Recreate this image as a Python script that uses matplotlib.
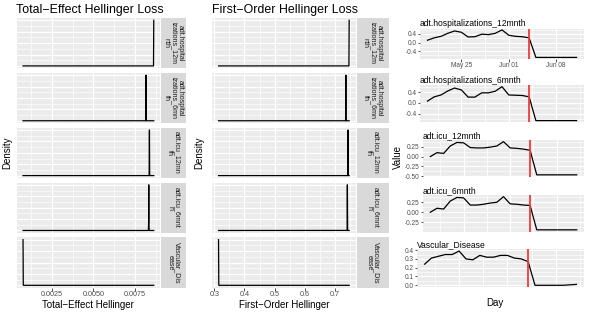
import numpy as np
import pandas as pd
import matplotlib
matplotlib.use("Agg")
import matplotlib.pyplot as plt
import matplotlib.dates as mdates
from matplotlib.ticker import MultipleLocator, FixedLocator, FormatStrFormatter, NullFormatter

plt.rcParams['font.family'] = ['Liberation Sans', 'DejaVu Sans']

# --- DATA ---
strip_labels = ["adt.hospital\nizations_12m\nnth", "adt.hospital\nizations_6mn\nth",
                "adt.icu_12mn\nth", "adt.icu_6mnt\nh", "Vascular_Dis\nease"]
series_names = ["adt.hospitalizations_12mnth", "adt.hospitalizations_6mnth",
                "adt.icu_12mnth", "adt.icu_6mnth", "Vascular_Disease"]

total_effect = [0.00862, 0.00816, 0.00836, 0.00832, 0.00078]
first_order = [0.747, 0.736, 0.743, 0.741, 0.314]

days = pd.date_range("2020-05-20", periods=23, freq="D")
change_day = pd.Timestamp("2020-06-04")
date_ticks = pd.to_datetime(["2020-05-25", "2020-06-01", "2020-06-08"])

hosp_12 = [0.11, 0.22, 0.29, 0.43, 0.54, 0.48, 0.26, 0.27, 0.39, 0.37, 0.43, 0.59,
           0.34, 0.29, 0.27, 0.22, -0.69, -0.69, -0.69, -0.69, -0.69, -0.69, -0.69]
hosp_6 = [0.07, 0.23, 0.30, 0.45, 0.56, 0.49, 0.22, 0.22, 0.38, 0.38, 0.44, 0.61,
          0.30, 0.29, 0.28, 0.23, -0.66, -0.66, -0.66, -0.66, -0.66, -0.66, -0.66]
icu_12 = [0.00, 0.10, 0.08, 0.27, 0.36, 0.35, 0.23, 0.22, 0.22, 0.24, 0.27, 0.38,
          0.22, 0.21, 0.19, 0.16, -0.465, -0.465, -0.465, -0.465, -0.465, -0.465, -0.465]
icu_6 = [0.00, 0.10, 0.08, 0.28, 0.37, 0.36, 0.18, 0.18, 0.20, 0.23, 0.25, 0.39,
         0.21, 0.20, 0.18, 0.17, -0.44, -0.44, -0.44, -0.44, -0.44, -0.44, -0.44]
vascular = [0.24, 0.31, 0.33, 0.35, 0.35, 0.39, 0.30, 0.29, 0.34, 0.32, 0.32, 0.34,
            0.34, 0.31, 0.30, 0.27, 0.00, 0.00, 0.00, 0.00, 0.00, 0.005, 0.01]
series = [hosp_12, hosp_6, icu_12, icu_6, vascular]

# --- LAYOUT (pixels) ---
W, H = 589, 312
fig = plt.figure(figsize=(W / 100, H / 100), dpi=100)
BG = '#EBEBEB'
STRIP = '#D9D9D9'
TICK = '#4D4D4D'


def px_axes(x0, y0, x1, y1):
    return fig.add_axes([x0 / W, 1 - y1 / H, (x1 - x0) / W, (y1 - y0) / H])


def gg(ax, labelsize=5.2):
    ax.set_facecolor(BG)
    for s in ax.spines.values():
        s.set_visible(False)
    ax.set_axisbelow(True)
    ax.grid(which='major', color='white', lw=0.9)
    ax.grid(which='minor', color='white', lw=0.45)
    ax.tick_params(which='both', length=1.8, width=0.6, color='#333333',
                   labelsize=labelsize, labelcolor=TICK, pad=0.8)
    ax.tick_params(which='minor', length=0)


def density(values, i):
    lo, hi = min(values), max(values)
    grid = np.sort(np.concatenate([np.linspace(lo, hi, 512), values]))
    bw = (hi - lo) / 2000
    d = np.exp(-0.5 * ((grid - values[i]) / bw) ** 2) / (bw * np.sqrt(2 * np.pi))
    return grid, d


row_top = 18
pitch = 54.85
row_h = 50.2

columns = [
    dict(vals=total_effect, x0=16.5, x1=160.3, s0=160.8, s1=186,
         major=0.0025, minor=0.00125, fmt='%.4f',
         title="Total\u2212Effect Hellinger Loss", xlabel="Total\u2212Effect Hellinger", ylab_x=7),
    dict(vals=first_order, x0=212, x1=355.7, s0=356.5, s1=388.5,
         major=0.1, minor=0.05, fmt='%.1f',
         title="First\u2212Order Hellinger Loss", xlabel="First\u2212Order Hellinger", ylab_x=199),
]

for col in columns:
    for i in range(5):
        y0 = row_top + i * pitch
        y1 = y0 + row_h
        ax = px_axes(col['x0'], y0, col['x1'], y1)
        gg(ax)
        x, d = density(col['vals'], i)
        ax.plot(x, d, color='black', lw=0.9)
        peak = d.max()
        ax.yaxis.set_major_locator(MultipleLocator(peak / 4))
        ax.yaxis.set_minor_locator(MultipleLocator(peak / 8))
        ax.yaxis.set_major_formatter(NullFormatter())
        ax.tick_params(axis='y', which='both', length=0)
        ax.xaxis.set_major_locator(MultipleLocator(col['major']))
        ax.xaxis.set_minor_locator(MultipleLocator(col['minor']))
        ax.xaxis.set_major_formatter(FormatStrFormatter(col['fmt']))
        if i < 4:
            ax.tick_params(axis='x', which='both', length=0, labelbottom=False)
        else:
            ax.set_xlabel(col['xlabel'], fontsize=7, labelpad=1)
        sax = px_axes(col['s0'], y0, col['s1'], y1)
        sax.set_facecolor(STRIP)
        sax.set_xticks([])
        sax.set_yticks([])
        for s in sax.spines.values():
            s.set_visible(False)
        sax.text(0.5, 0.5, strip_labels[i], rotation=-90, ha='center', va='center',
                 transform=sax.transAxes, fontsize=5.1, color='#1A1A1A', linespacing=1.05,
                 multialignment='center')
    fig.text(col['x0'] / W, 1 - 13.5 / H, col['title'], fontsize=8.9, ha='left', va='baseline')
    fig.text(col['ylab_x'] / W, 1 - 153 / H, "Density", fontsize=7, rotation=90,
             ha='center', va='center')

# --- RIGHT COLUMN: time series ---
right_boxes = [(420, 28.5, 584, 58.8), (420, 85, 584, 122.3), (423, 140, 584, 176.5),
               (423, 195, 584, 231.5), (417, 249.3, 584, 287)]
y_steps = [(0.4, '%.1f'), (0.4, '%.1f'), (0.25, '%.2f'), (0.25, '%.2f'), (0.1, '%.1f')]
minor_days = [mdates.date2num(d) + off for d in date_ticks for off in (-3.5, 3.5)]

for i, (box, vals) in enumerate(zip(right_boxes, series)):
    ax = px_axes(*box)
    gg(ax, labelsize=4.7)
    ax.plot(days, vals, color='black', lw=0.9)
    ax.axvline(change_day, color='#F03C3C', lw=1.3)
    step, fmt = y_steps[i]
    ax.yaxis.set_major_locator(MultipleLocator(step))
    ax.yaxis.set_minor_locator(MultipleLocator(step / 2))
    ax.yaxis.set_major_formatter(FormatStrFormatter(fmt))
    ax.xaxis.set_major_locator(FixedLocator(mdates.date2num(date_ticks)))
    ax.xaxis.set_minor_locator(FixedLocator(minor_days))
    ax.xaxis.set_major_formatter(mdates.DateFormatter('%b %d'))
    if i > 0:
        ax.tick_params(axis='x', which='both', length=0, labelbottom=False)
    ax.set_title(series_names[i], fontsize=6.15, loc='left', pad=1.5)

fig.text(398 / W, 1 - 157 / H, "Value", fontsize=7, rotation=90, ha='center', va='center')
fig.text(495 / W, 1 - 303 / H, "Day", fontsize=7, ha='center', va='center')

fig.savefig("out.png", dpi=100)
